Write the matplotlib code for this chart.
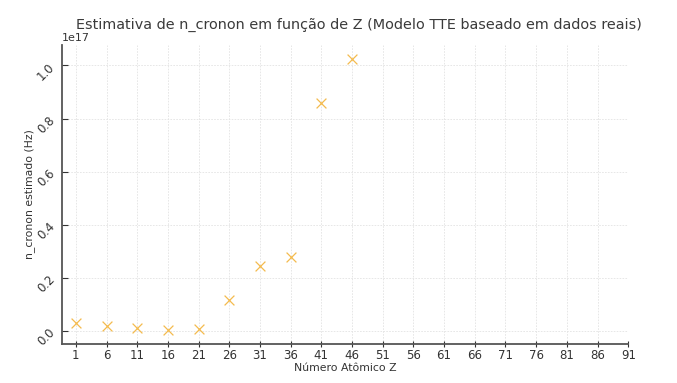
import matplotlib
matplotlib.use("Agg")
import matplotlib.pyplot as plt

# Z atomico e n_cronon estimado (x1e17 Hz)
z_values = [1, 6, 11, 16, 21, 26, 31, 36, 41, 46]
n_cronon_e17 = [0.030, 0.019, 0.009, 0.001, 0.006, 0.115, 0.244, 0.279, 0.857, 1.026]
n_cronon = [v * 1e17 for v in n_cronon_e17]
x_ticks = list(range(1, 92, 5))

fig = plt.figure(figsize=(6.77, 3.83), dpi=100)
ax = fig.add_axes([0.0916, 0.1018, 0.8364, 0.7807])

ax.scatter(z_values, n_cronon, marker="x", color="#f4bb4e", s=50, linewidths=0.9, zorder=3)

ax.set_xticks(x_ticks)
fig.text(0.530, 1 - 25 / 383,
         "Estimativa de n_cronon em função de Z (Modelo TTE baseado em dados reais)",
         fontsize=10.4, color="#3a3a3a", ha="center", va="center")
ax.set_xlabel("Número Atômico Z", fontsize=7.8, color="#333333", labelpad=1)
ax.set_ylabel("n_cronon estimado (Hz)", fontsize=7.8, color="#333333", labelpad=0)

ax.grid(True, color="#e3e3e3", linestyle=(0, (2, 1.5)), linewidth=0.6)
ax.set_axisbelow(True)
for side in ["top", "right"]:
    ax.spines[side].set_visible(False)
for side in ["left", "bottom"]:
    ax.spines[side].set_color("#555555")
    ax.spines[side].set_linewidth(1.3)

ax.tick_params(axis="x", direction="inout", length=4, pad=1.5, colors="#333333", labelsize=8.5)
ax.tick_params(axis="y", direction="in", length=4, colors="#333333", labelsize=8.5)
for lbl in ax.get_yticklabels():
    lbl.set_rotation(45)
ax.yaxis.get_offset_text().set_fontsize(8)
ax.yaxis.get_offset_text().set_color("#333333")

fig.savefig("out.png", dpi=100)
